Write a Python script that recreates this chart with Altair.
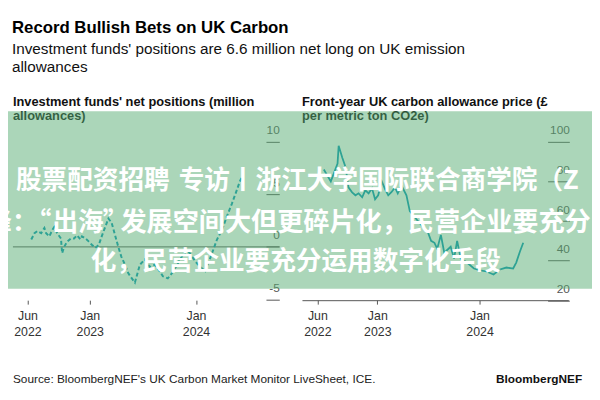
import altair as alt
import pandas as pd

# ---------------- data ----------------
pos_dates = ["2022-06-14", "2022-06-25", "2022-07-05", "2022-07-18", "2022-07-29", "2022-08-04",
             "2022-08-15", "2022-08-25", "2022-09-01", "2022-09-11", "2022-09-24", "2022-09-28",
             "2022-10-05", "2022-10-15", "2022-10-28", "2022-11-08", "2022-11-18", "2022-11-30",
             "2022-12-05", "2022-12-17", "2022-12-29", "2023-01-08", "2023-01-20", "2023-02-01",
             "2023-02-11", "2023-02-23", "2023-03-06", "2023-03-17", "2023-03-29", "2023-04-09",
             "2023-04-19", "2023-05-02", "2023-05-13", "2023-05-23", "2023-06-05", "2023-06-22",
             "2023-07-09", "2023-07-26", "2023-08-12", "2023-08-29", "2023-09-09", "2023-09-26",
             "2023-10-13", "2023-10-30", "2023-11-16", "2023-12-03", "2023-12-20", "2024-01-05",
             "2024-01-19", "2024-02-02", "2024-02-13", "2024-02-25", "2024-03-13", "2024-03-30",
             "2024-04-16", "2024-05-03", "2024-05-20", "2024-05-30", "2024-06-06"]
pos_values = [0.7, 1.3, 1.5, 1.3, 1.8, 1.3,
              1.0, 1.6, 1.9, 1.3, 0.8, -0.6,
              0.0, 0.5, 0.8, 0.8, 1.1, 0.7,
              1.0, 0.8, 0.5, 0.2, -0.1, 0.2,
              1.0, 1.9, 2.7, 2.3, 1.1, 0.0,
              -0.9, -1.7, -2.5, -2.9, -3.4, -1.7,
              -1.2, -1.9, -1.7, -2.3, -2.8, -3.0,
              -2.4, -1.6, -0.8, -0.3, -1.0, -1.6,
              -2.0, -2.3, -1.5, -0.6, 0.7, 1.6,
              2.9, 4.1, 5.4, 6.2, 6.6]

price_dates = ["2022-06-24", "2022-07-19", "2022-08-12", "2022-08-16", "2022-08-29", "2022-09-10",
               "2022-09-20", "2022-10-03", "2022-10-15", "2022-10-26", "2022-11-08", "2022-11-19",
               "2022-12-01", "2022-12-13", "2022-12-24", "2023-01-04", "2023-01-17", "2023-01-29",
               "2023-02-09", "2023-02-21", "2023-03-05", "2023-03-15", "2023-03-28", "2023-04-15",
               "2023-04-27", "2023-05-14", "2023-06-07", "2023-06-29", "2023-07-12", "2023-07-24",
               "2023-08-03", "2023-08-16", "2023-08-28", "2023-09-20", "2023-10-02", "2023-10-13",
               "2023-10-26", "2023-11-17", "2023-12-12", "2024-01-04", "2024-01-26", "2024-02-20",
               "2024-03-14", "2024-04-06", "2024-04-30", "2024-05-11", "2024-05-24", "2024-06-05"]
price_values = [86, 80, 89, 98, 92, 87,
                77, 74.5, 73, 74, 72, 75.5,
                74, 76.5, 71, 73, 80, 76,
                73, 74.7, 77, 74, 78, 73,
                65, 62, 58, 55, 50, 49,
                46, 53, 44, 47, 41, 50,
                41, 39, 36, 35, 34.5, 33,
                35.5, 36.5, 36, 39, 44.5, 49]

left_ticks = [-5, 0, 5, 10]
right_ticks = [20, 40, 60, 80, 100]

title = "Record Bullish Bets on UK Carbon"
subtitle = ["Investment funds' positions are 6.6 million net long on UK emission", "allowances"]
left_title = ["Investment funds' net positions (million", "allowances)"]
right_title = ["Front-year UK carbon allowance price (£", "per metric ton CO2e)"]
source = "Source: BloombergNEF's UK Carbon Market Monitor LiveSheet, ICE."
brand = "BloombergNEF"
watermark_1 = ["股票配资招聘", "专访丨浙江大学国际联合商学院（Z"]
watermark_2 = ["峰：", "“", "出海", "”", "发展空间大但更碎片化，民营企业要充分"]
watermark_3 = "化，民营企业要充分运用数字化手段"

# ---------------- layout helpers ----------------
W, H = 592, 392
M = 8


def px(v):
    return v - M


LINE = "#0597b5"
BOLD = "'Liberation Sans', Arial, sans-serif"
REG = "'Liberation Sans', Arial, sans-serif"

pos_df = pd.DataFrame({"date": pos_dates, "value": pos_values})
price_df = pd.DataFrame({"date": price_dates, "value": price_values})


def dt(y, m, d):
    return alt.DateTime(year=y, month=m, date=d, utc=True)


tick_dates = [dt(2022, 6, 1), dt(2023, 1, 1), dt(2024, 1, 1)]
label_expr = "[utcFormat(datum.value, '%b'), utcFormat(datum.value, '%Y')]"

left_x_dom = [dt(2022, 4, 12), dt(2024, 10, 13)]
left_x_rng = [px(13), px(283)]
left_y_dom = [-5, 10]
left_y_rng = [px(300.7), px(141)]


def lxs():
    return alt.Scale(type="utc", domain=left_x_dom, range=left_x_rng)


def lys():
    return alt.Scale(domain=left_y_dom, range=left_y_rng, zero=False, nice=False)


right_x_scale = alt.Scale(type="utc", domain=[dt(2022, 4, 7), dt(2024, 11, 13)], range=[px(306), px(576)])
right_y_scale = alt.Scale(domain=[20, 100], range=[px(301.5), px(141)], zero=False, nice=False)

x_axis_common = dict(values=tick_dates, labelExpr=label_expr, orient="bottom", offset=px(301.5) - H,
                     tickSize=4, tickColor="#555", labelFont=REG, labelFontSize=12.5, labelColor="#333",
                     labelLineHeight=16, labelPadding=6, title=None, grid=False, labelFlush=False)

left_x_axis = alt.Axis(domain=False, **x_axis_common)
right_x_axis = alt.Axis(domain=True, domainColor="#555", **x_axis_common)

y_axis_common = dict(orient="right", domain=False, grid=False, title=None, tickColor="#555",
                     labelAlign="right", labelPadding=0, labelBaseline="alphabetic", labelOffset=-8,
                     labelFont=REG, labelFontSize=12, labelColor="#555", labelExpr="'' + datum.value")
left_y_axis = alt.Axis(values=left_ticks, offset=px(269.5) - W, tickSize=13.5, **y_axis_common)
right_y_axis = alt.Axis(values=right_ticks, offset=px(555) - W, tickSize=22, **y_axis_common)

# ---------------- left panel ----------------
zero_df = pd.DataFrame({"start": ["2022-04-12"], "end": ["2024-10-13"], "value": [0]})
left_zero = alt.Chart(zero_df).mark_rule(color="#555", strokeWidth=1).encode(
    x=alt.X("start:T", scale=lxs(), axis=None),
    x2="end:T",
    y=alt.Y("value:Q", scale=lys(), axis=None),
)
left_line = alt.Chart(pos_df).mark_line(color=LINE, strokeWidth=2, strokeDash=[4, 2.5]).encode(
    x=alt.X("date:T", scale=lxs(), axis=left_x_axis),
    y=alt.Y("value:Q", scale=lys(), axis=left_y_axis),
)

# ---------------- right panel ----------------
right_line = alt.Chart(price_df).mark_line(color=LINE, strokeWidth=1.8).encode(
    x=alt.X("date:T", scale=right_x_scale, axis=right_x_axis),
    y=alt.Y("value:Q", scale=right_y_scale, axis=right_y_axis),
)

one = alt.Data(values=[{}])


def text(t, x, y, size, font=REG, weight="normal", color="#111", align="left", baseline="middle"):
    return alt.Chart(one).mark_text(text=t, x=x, y=y, fontSize=size, font=font, fontWeight=weight,
                                    color=color, align=align, baseline=baseline)


titles = [
    text(title, px(12), px(26), 17, font=BOLD, weight="bold", color="#000"),
    text(subtitle[0], px(12), px(46.5), 15.5, color="#111"),
    text(subtitle[1], px(12), px(65.5), 15.5, color="#111"),
    text(left_title[0], px(13), px(101), 13, font=BOLD, weight="bold", color="#111"),
    text(left_title[1], px(13), px(115), 13, font=BOLD, weight="bold", color="#111"),
    text(right_title[0], px(306), px(101), 13, font=BOLD, weight="bold", color="#111"),
    text(right_title[1], px(306), px(115), 13, font=BOLD, weight="bold", color="#111"),
    text(source, px(13), px(381.5), 12, color="#222"),
    text(brand, px(590), px(381.5), 12, font=BOLD, weight="bold", color="#111", align="right"),
]

band = alt.Chart(one).mark_rect(fill="#58ad74", opacity=0.5).encode(
    x=alt.value(-M), x2=alt.value(W), y=alt.value(px(110)), y2=alt.value(px(290))
)

CJK = "'Noto Sans CJK SC', sans-serif"
FS = 26


def wm(t, x, y, align="left", size=FS):
    return text(t, px(x), px(y), size, font=CJK, weight="bold", color="#ffffff", align=align)


marks = [
    wm(watermark_1[0], 16, 181),
    wm(watermark_1[1], 181, 181),
    wm(watermark_2[0], -14, 223),
    wm(watermark_2[1], 52, 223, align="right"),
    wm(watermark_2[2], 53, 223),
    wm(watermark_2[3], 104, 223),
    wm(watermark_2[4], 122, 223, size=26.5),
    wm(watermark_3, 92, 263),
]

chart = alt.layer(
    left_zero, left_line, right_line, *titles, band, *marks
).resolve_scale(
    x="independent", y="independent"
).resolve_axis(
    x="independent", y="independent"
).properties(
    width=W, height=H, padding=0, autosize=alt.AutoSizeParams(type="none")
).configure_view(stroke=None)

chart.save("out.html", embed_options={"renderer": "svg", "actions": False})
